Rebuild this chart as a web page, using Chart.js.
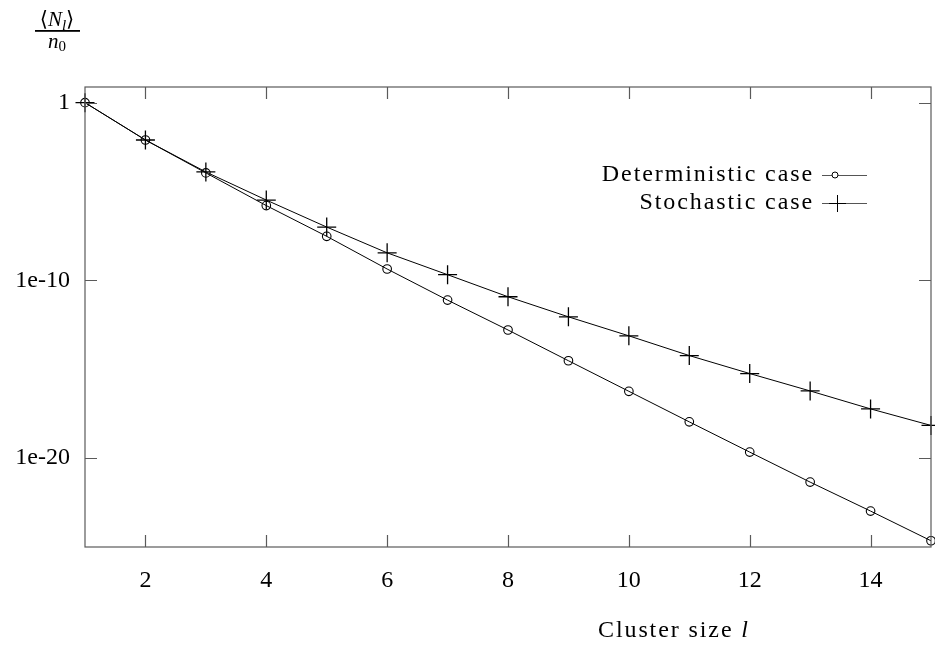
<!DOCTYPE html>
<html>
<head>
<meta charset="utf-8">
<script src="https://cdn.jsdelivr.net/npm/chart.js@4"></script>
<style>
html,body{margin:0;padding:0;background:#fff;}
#wrap{position:relative;width:935px;height:654px;}
</style>
</head>
<body>
<div id="wrap"><canvas id="c" width="935" height="654"></canvas></div>
<script>
// ---- data ----
const clusterSizes = [1,2,3,4,5,6,7,8,9,10,11,12,13,14,15];
const deterministic = [1, 7.94e-3, 1.12e-4, 1.62e-6, 3.02e-8, 4.37e-10, 7.76e-12, 1.62e-13, 3.02e-15, 5.75e-17, 1.10e-18, 2.19e-20, 4.47e-22, 1.05e-23, 2.24e-25];
const stochastic = [1, 7.94e-3, 1.26e-4, 3.31e-6, 1.0e-7, 3.55e-9, 2.09e-10, 1.20e-11, 8.91e-13, 7.59e-14, 5.89e-15, 5.75e-16, 6.03e-17, 5.89e-18, 6.92e-19];
const seriesLabels = ["Deterministic case", "Stochastic case"];
const xTickValues = [2,4,6,8,10,12,14];
const yTickValues = [1, 1e-10, 1e-20];
const yTickLabels = ["1", "1e-10", "1e-20"];
const xTitle = "Cluster size ";
const xTitleVar = "l";

const FONT = "'Liberation Serif', 'DejaVu Serif', serif";
const FSIZE = 24;

const frameAndTicks = {
  id: 'frameAndTicks',
  afterDraw(chart) {
    const {ctx, chartArea: a, scales} = chart;
    ctx.save();
    ctx.strokeStyle = '#5a5a5a';
    ctx.lineWidth = 1.2;
    ctx.strokeRect(a.left, a.top, a.right - a.left, a.bottom - a.top);
    const tl = 12;
    ctx.beginPath();
    xTickValues.forEach(v => {
      const px = Math.round(scales.x.getPixelForValue(v)) + 0.5;
      ctx.moveTo(px, a.bottom); ctx.lineTo(px, a.bottom - tl);
      ctx.moveTo(px, a.top); ctx.lineTo(px, a.top + tl);
    });
    yTickValues.forEach(v => {
      const py = Math.round(scales.y.getPixelForValue(v)) + 0.5;
      ctx.moveTo(a.left, py); ctx.lineTo(a.left + tl, py);
      ctx.moveTo(a.right, py); ctx.lineTo(a.right - tl, py);
    });
    ctx.stroke();

    // legend (text left, sample right)
    ctx.fillStyle = '#000';
    ctx.font = FSIZE + 'px ' + FONT;
    ctx.letterSpacing = '1.9px';
    ctx.textAlign = 'right';
    ctx.textBaseline = 'middle';
    const rows = [175, 203];
    chart.data.datasets.forEach((ds, i) => {
      const y = rows[i];
      ctx.fillText(ds.label, 814, y);
      ctx.strokeStyle = '#555';
      ctx.lineWidth = 1;
      ctx.beginPath(); ctx.moveTo(822, y + 0.5); ctx.lineTo(867, y + 0.5); ctx.stroke();
      ctx.strokeStyle = '#000';
      ctx.beginPath();
      if (ds.pointStyle === 'circle') {
        ctx.fillStyle = '#fff';
        ctx.arc(835, y, 3, 0, Math.PI * 2);
        ctx.fill();
        ctx.stroke();
        ctx.fillStyle = '#000';
      } else {
        ctx.moveTo(837.5, y - 8); ctx.lineTo(837.5, y + 9);
        ctx.moveTo(829, y + 0.5); ctx.lineTo(846, y + 0.5);
        ctx.stroke();
      }
    });

    // x axis title
    ctx.textAlign = 'left';
    ctx.textBaseline = 'alphabetic';
    ctx.font = FSIZE + 'px ' + FONT;
    ctx.fillText(xTitle, 598, 637);
    const w = ctx.measureText(xTitle).width;
    ctx.font = 'italic ' + FSIZE + 'px ' + FONT;
    ctx.fillText(xTitleVar, 598 + w, 637);
    ctx.letterSpacing = '0px';

    // y axis title: <N_l> / n_0
    const cx = 57;
    ctx.textAlign = 'left';
    let parts = [['⟨', '21px ' + FONT, 0], ['N', 'italic 21px ' + FONT, 0], ['l', 'italic 15px ' + FONT, 4], ['⟩', '21px ' + FONT, 0]];
    let tw = 0;
    parts.forEach(p => { ctx.font = p[1]; tw += ctx.measureText(p[0]).width; });
    let xx = cx - tw / 2;
    parts.forEach(p => { ctx.font = p[1]; ctx.fillText(p[0], xx, 26 + p[2]); xx += ctx.measureText(p[0]).width; });
    ctx.fillRect(35, 30, 45, 1.8);
    parts = [['n', 'italic 21px ' + FONT, 0], ['0', '15px ' + FONT, 3]];
    tw = 0;
    parts.forEach(p => { ctx.font = p[1]; tw += ctx.measureText(p[0]).width; });
    xx = cx - tw / 2;
    parts.forEach(p => { ctx.font = p[1]; ctx.fillText(p[0], xx, 48 + p[2]); xx += ctx.measureText(p[0]).width; });
    ctx.restore();
  }
};

new Chart(document.getElementById('c'), {
  type: 'line',
  data: {
    datasets: [
      {
        label: seriesLabels[0],
        data: clusterSizes.map((x, i) => ({x, y: deterministic[i]})),
        borderColor: '#000', borderWidth: 1,
        pointStyle: 'circle', pointRadius: 4.3, pointBorderWidth: 1.1,
        pointBackgroundColor: 'rgba(0,0,0,0)', pointBorderColor: '#000',
        tension: 0, fill: false
      },
      {
        label: seriesLabels[1],
        data: clusterSizes.map((x, i) => ({x, y: stochastic[i]})),
        borderColor: '#000', borderWidth: 1,
        pointStyle: 'cross', pointRadius: 9.5, pointBorderWidth: 1.3,
        pointBackgroundColor: 'rgba(0,0,0,0)', pointBorderColor: '#000',
        tension: 0, fill: false
      }
    ]
  },
  options: {
    responsive: false,
    animation: false,
    clip: false,
    layout: {autoPadding: false, padding: {left: 0, top: 87, right: 4, bottom: 0}},
    plugins: {legend: {display: false}, tooltip: {enabled: false}},
    scales: {
      x: {
        type: 'linear', min: 1, max: 15,
        afterBuildTicks: s => { s.ticks = xTickValues.map(v => ({value: v})); },
        afterFit: s => { s.height = 107; s.paddingRight = 0; s.paddingLeft = 0; },
        grid: {display: false, drawTicks: false},
        border: {display: false},
        ticks: {color: '#000', font: {family: FONT, size: FSIZE}, padding: 19, maxRotation: 0}
      },
      y: {
        type: 'logarithmic', min: 1e-25, max: 7.6,
        afterBuildTicks: s => { s.ticks = yTickValues.map(v => ({value: v})); },
        afterFit: s => { s.width = 85; s.paddingTop = 0; s.paddingBottom = 0; },
        grid: {display: false, drawTicks: false},
        border: {display: false},
        ticks: {color: '#000', font: {family: FONT, size: FSIZE}, padding: 15,
          callback: (v) => { const i = yTickValues.indexOf(v); return i >= 0 ? yTickLabels[i] : ''; }}
      }
    }
  },
  plugins: [frameAndTicks]
});
</script>
</body>
</html>
